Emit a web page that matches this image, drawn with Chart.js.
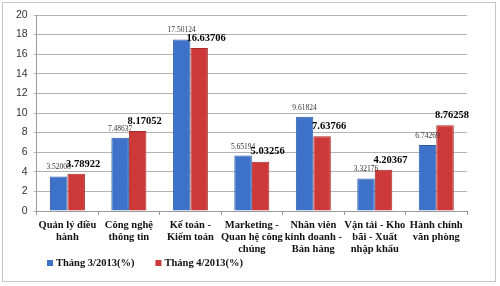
<!DOCTYPE html>
<html>
<head>
<meta charset="utf-8">
<script src="https://cdn.jsdelivr.net/npm/chart.js@4.4.0/dist/chart.umd.min.js"></script>
<style>
  body { margin: 0; background: #fff; }
  #wrap { position: relative; width: 500px; height: 286px; }
  #frame { position: absolute; left: 2px; top: 2px; width: 492px; height: 278px; border: 1px solid #c8c8c8; pointer-events: none; }
</style>
</head>
<body>
<div id="wrap">
  <canvas id="jobChart" width="500" height="286"></canvas>
  <div id="frame"></div>
</div>
<script>
const categories = [
    ['Quản lý điều', 'hành'],
    ['Công nghệ', 'thông tin'],
    ['Kế toán -', 'Kiểm toán'],
    ['Marketing -', 'Quan hệ công', 'chúng'],
    ['Nhân viên', 'kinh doanh -', 'Bán hàng'],
    ['Vận tải - Kho', 'bãi - Xuất', 'nhập khẩu'],
    ['Hành chính', 'văn phòng']
];
const march = [3.52008, 7.48637, 17.50124, 5.65194, 9.61824, 3.32176, 6.74269];
const april = [3.78922, 8.17052, 16.63706, 5.03256, 7.63766, 4.20367, 8.76258];
const seriesNames = ['Tháng 3/2013(%)', 'Tháng 4/2013(%)'];
const seriesColors = ['#3d72c8', '#cd3838'];
const yTicks = [0, 2, 4, 6, 8, 10, 12, 14, 16, 18, 20];

// étiquettes de valeur au-dessus des barres + légende dessinée à la main
const valueLabels = {
    id: 'valueLabels',
    afterDatasetsDraw(chart) {
        const ctx = chart.ctx;
        ctx.save();
        ctx.textAlign = 'center';
        ctx.textBaseline = 'middle';
        chart.getDatasetMeta(0).data.forEach((bar, i) => {
            ctx.font = '7.5px "Liberation Serif", serif';
            ctx.fillStyle = '#333';
            ctx.fillText(march[i].toFixed(5), bar.x, bar.y - 9);
        });
        chart.getDatasetMeta(1).data.forEach((bar, i) => {
            ctx.font = 'bold 10.5px "Liberation Serif", serif';
            ctx.fillStyle = '#000';
            ctx.fillText(april[i].toFixed(5), bar.x + 7, bar.y - 10);
        });
        ctx.restore();
    },
    afterDraw(chart) {
        const ctx = chart.ctx;
        ctx.save();
        ctx.font = 'bold 10.5px "Liberation Serif", serif';
        ctx.textBaseline = 'middle';
        ctx.textAlign = 'left';
        let x = 47;
        const y = 263;
        seriesNames.forEach((name, i) => {
            ctx.fillStyle = seriesColors[i];
            ctx.fillRect(x, y - 3, 6, 6);
            ctx.fillStyle = '#111';
            ctx.fillText(name, x + 9, y);
            x += 9 + ctx.measureText(name).width + 21;
        });
        ctx.restore();
    }
};

const ctx = document.getElementById('jobChart').getContext('2d');
new Chart(ctx, {
    type: 'bar',
    data: {
        labels: categories,
        datasets: [{
            label: seriesNames[0],
            data: march,
            backgroundColor: seriesColors[0],
            borderColor: '#2c5aa6',
            borderWidth: 1,
            barPercentage: 1,
            categoryPercentage: 0.57
        }, {
            label: seriesNames[1],
            data: april,
            backgroundColor: seriesColors[1],
            borderColor: '#a82a2a',
            borderWidth: 1,
            barPercentage: 1,
            categoryPercentage: 0.57
        }]
    },
    options: {
        responsive: false,
        animation: false,
        layout: { padding: { left: 10, right: 33, top: 15, bottom: 27 } },
        scales: {
            x: {
                grid: { drawOnChartArea: false, drawTicks: true, tickLength: 4, color: '#9a9a9a' },
                border: { color: '#9a9a9a' },
                ticks: {
                    maxRotation: 0,
                    autoSkip: false,
                    padding: 4,
                    color: '#111',
                    font: { family: '"Liberation Serif", serif', size: 10.5, weight: 'bold', lineHeight: '12px' }
                }
            },
            y: {
                min: 0,
                max: 20,
                afterBuildTicks: axis => { axis.ticks = yTicks.map(v => ({ value: v })); },
                grid: { color: '#b4b4b4', tickLength: 3 },
                border: { color: '#9a9a9a' },
                ticks: {
                    padding: 6,
                    color: '#333',
                    font: { family: '"Liberation Sans", Arial, sans-serif', size: 10.5 }
                }
            }
        },
        plugins: {
            legend: { display: false },
            tooltip: { enabled: false }
        }
    },
    plugins: [valueLabels]
});
</script>
</body>
</html>
